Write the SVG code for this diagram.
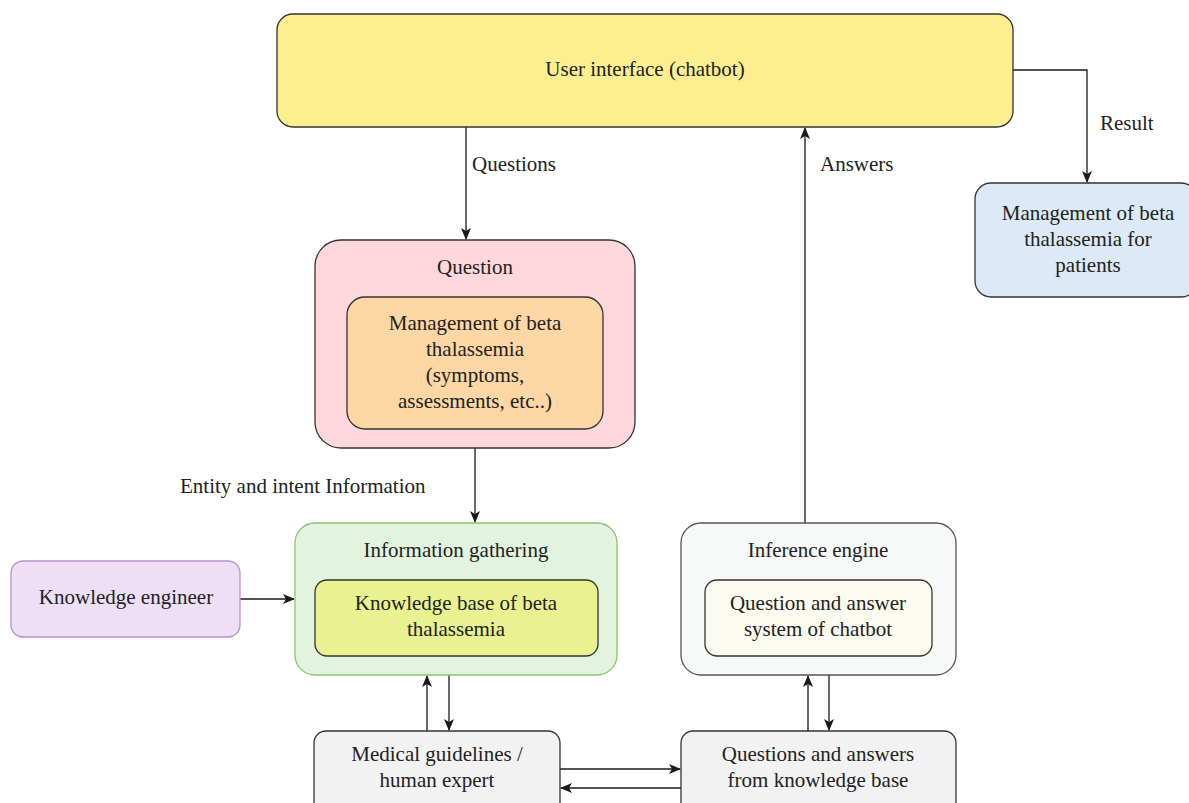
<svg xmlns="http://www.w3.org/2000/svg" width="1189" height="803" viewBox="0 0 1189 803">
<defs>
<marker id="ah" markerWidth="12" markerHeight="10" refX="11" refY="5" orient="auto" markerUnits="userSpaceOnUse">
<path d="M0,0 L12,5 L0,10 L3,5 Z" fill="#1a1a1a"/>
</marker>
<style>
text{font-family:"Liberation Serif","Times New Roman",serif;font-size:21px;fill:#222;text-anchor:middle;}
.lbl{text-anchor:start;}
.box{stroke:#333;stroke-width:1.3;}
.conn{fill:none;stroke:#1a1a1a;stroke-width:1.3;marker-end:url(#ah);}
</style>
</defs>
<rect width="1189" height="803" fill="#fff"/>
<g id="connectors">
<path class="conn" d="M1013,70 H1087 V182"/>
<path class="conn" d="M466,127 V239"/>
<path class="conn" d="M805,523 V128"/>
<path class="conn" d="M475,448 V522"/>
<path class="conn" d="M240,599 H294"/>
<path class="conn" d="M427,731 V676"/>
<path class="conn" d="M449,675 V730"/>
<path class="conn" d="M808,731 V676"/>
<path class="conn" d="M829,675 V730"/>
<path class="conn" d="M560,769 H680"/>
<path class="conn" d="M681,788 H561"/>
<text class="lbl" x="1100" y="130">Result</text>
<text class="lbl" x="472" y="171">Questions</text>
<text class="lbl" x="820" y="171">Answers</text>
<text class="lbl" x="180" y="493">Entity and intent Information</text>
</g>
<g id="user-interface">
<rect class="box" x="277" y="14" width="736" height="113" rx="16" fill="#fdef90"/>
<text x="645" y="76">User interface (chatbot)</text>
</g>
<g id="management-patients">
<rect class="box" x="975" y="183" width="222" height="114" rx="16" fill="#dce9f7"/>
<text x="1088" y="220">Management of beta</text>
<text x="1088" y="246">thalassemia for</text>
<text x="1088" y="272">patients</text>
</g>
<g id="question">
<rect class="box" x="315" y="240" width="320" height="208" rx="26" fill="#fed7dd"/>
<text x="475" y="274">Question</text>
</g>
<g id="question-content">
<rect class="box" x="347" y="297" width="256" height="132" rx="18" fill="#fdd7a3"/>
<text x="475" y="330">Management of beta</text>
<text x="475" y="356">thalassemia</text>
<text x="475" y="382">(symptoms,</text>
<text x="475" y="408">assessments, etc..)</text>
</g>
<g id="information-gathering">
<rect x="295" y="523" width="322" height="152" rx="20" fill="#e3f4de" stroke="#8dc26c" stroke-width="1.3"/>
<text x="456" y="557">Information gathering</text>
</g>
<g id="knowledge-base">
<rect class="box" x="315" y="580" width="283" height="76" rx="12" fill="#e8f290"/>
<text x="456" y="610">Knowledge base of beta</text>
<text x="456" y="636">thalassemia</text>
</g>
<g id="knowledge-engineer">
<rect x="11" y="561" width="229" height="76" rx="12" fill="#eddff6" stroke="#b98fcf" stroke-width="1.3"/>
<text x="126" y="604">Knowledge engineer</text>
</g>
<g id="inference-engine">
<rect x="681" y="523" width="275" height="152" rx="20" fill="#f7f9f8" stroke="#555" stroke-width="1.3"/>
<text x="818" y="557">Inference engine</text>
</g>
<g id="qa-system">
<rect class="box" x="705" y="580" width="227" height="76" rx="12" fill="#fbfbf1"/>
<text x="818" y="610">Question and answer</text>
<text x="818" y="636">system of chatbot</text>
</g>
<g id="medical-guidelines">
<rect class="box" x="314" y="731" width="246" height="90" rx="12" fill="#f2f2f2"/>
<text x="437" y="761">Medical guidelines /</text>
<text x="437" y="787">human expert</text>
</g>
<g id="qa-knowledge-base">
<rect class="box" x="681" y="731" width="275" height="90" rx="12" fill="#f2f2f2"/>
<text x="818" y="761">Questions and answers</text>
<text x="818" y="787">from knowledge base</text>
</g>
</svg>
